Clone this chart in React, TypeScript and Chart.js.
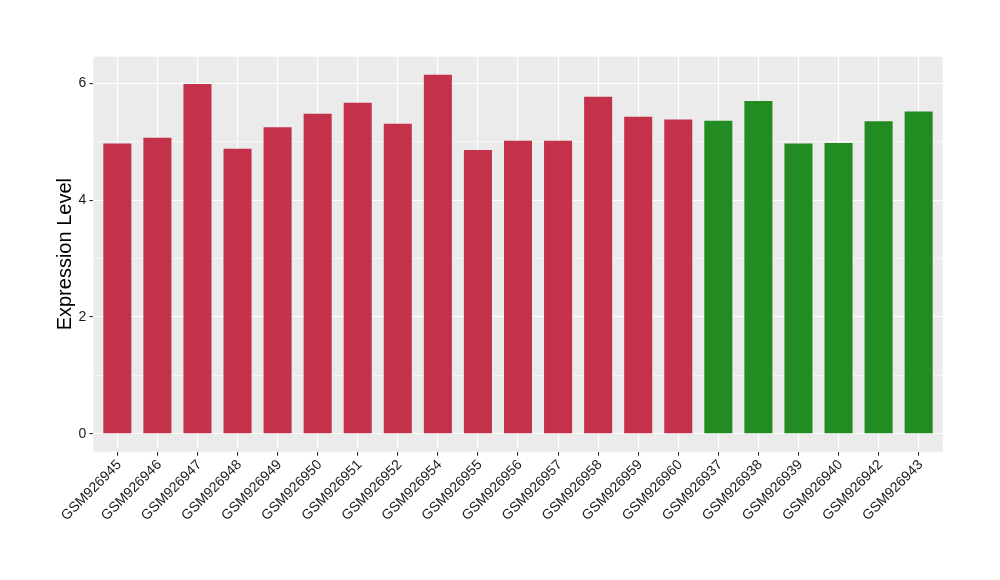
import React, { useEffect, useRef } from "react";
import { Chart, registerables } from "chart.js";

Chart.register(...registerables);

const samples = [
  "GSM926945", "GSM926946", "GSM926947", "GSM926948", "GSM926949", "GSM926950", "GSM926951",
  "GSM926952", "GSM926954", "GSM926955", "GSM926956", "GSM926957", "GSM926958", "GSM926959",
  "GSM926960", "GSM926937", "GSM926938", "GSM926939", "GSM926940", "GSM926942", "GSM926943",
];
const values = [
  4.97, 5.07, 5.99, 4.88, 5.25, 5.48, 5.67, 5.31, 6.15, 4.86, 5.02, 5.02, 5.77, 5.43, 5.38,
  5.36, 5.70, 4.97, 4.98, 5.35, 5.52,
];
const groups = [
  "a", "a", "a", "a", "a", "a", "a", "a", "a", "a", "a", "a", "a", "a", "a",
  "b", "b", "b", "b", "b", "b",
];
const groupColors: Record<string, string> = { a: "#C3314A", b: "#228B22" };
const yTicks = [0, 1, 2, 3, 4, 5, 6];

const FONT = "'Liberation Sans', Arial, Helvetica, sans-serif";

const panelBg = {
  id: "panelBg",
  beforeDraw(chart: any) {
    const { ctx, chartArea } = chart;
    ctx.save();
    ctx.fillStyle = "#EBEBEB";
    ctx.fillRect(chartArea.left, chartArea.top, chartArea.right - chartArea.left, chartArea.bottom - chartArea.top);
    ctx.restore();
  },
};

export default function App() {
  const ref = useRef<HTMLCanvasElement | null>(null);

  useEffect(() => {
    if (!ref.current) return;
    const maxV = Math.max(...values);
    const chart = new Chart(ref.current, {
      type: "bar",
      data: {
        datasets: [
          {
            data: values.map((v, i) => ({ x: i, y: v })),
            backgroundColor: groups.map((g) => groupColors[g]),
            borderWidth: 0,
            categoryPercentage: 1,
            barPercentage: 0.7,
          },
        ],
      },
      options: {
        responsive: false,
        animation: false,
        devicePixelRatio: 1,
        layout: { padding: { left: 0, right: 57.3, top: 56.7, bottom: 0 } },
        plugins: { legend: { display: false }, tooltip: { enabled: false } },
        scales: {
          x: {
            type: "linear",
            offset: false,
            min: -0.6,
            max: samples.length - 1 + 0.6,
            afterBuildTicks: (scale: any) => {
              scale.ticks = samples.map((_, i) => ({ value: i }));
            },
            afterFit: (scale: any) => {
              scale.height = 580 - 451.7;
            },
            ticks: {
              autoSkip: false,
              maxRotation: 45,
              minRotation: 45,
              color: "#1A1A1A",
              font: { family: FONT, size: 14 },
              padding: 1,
              labelOffset: 2,
              callback: (v: any) => samples[v as number] ?? "",
            },
            grid: {
              offset: false,
              color: "#FFFFFF",
              lineWidth: 1.1,
              tickColor: "#333333",
              tickLength: 4,
            },
            border: { display: false },
          },
          y: {
            min: -0.05 * maxV,
            max: maxV * 1.05,
            afterBuildTicks: (scale: any) => {
              scale.ticks = yTicks.map((v) => ({ value: v }));
            },
            afterFit: (scale: any) => {
              scale.width = 93.3;
            },
            ticks: {
              color: "#1A1A1A",
              font: { family: FONT, size: 14 },
              padding: 3,
              callback: (v: any) => ((v as number) % 2 === 0 ? String(v) : ""),
            },
            grid: {
              color: "#FFFFFF",
              lineWidth: (c: any) => (c.tick && c.tick.value % 2 === 0 ? 1.1 : 0.55),
              tickColor: (c: any) => (c.tick && c.tick.value % 2 === 0 ? "#333333" : "rgba(0,0,0,0)"),
              tickLength: 4,
            },
            border: { display: false },
            title: {
              display: true,
              text: "Expression Level",
              color: "#000000",
              font: { family: FONT, size: 20 },
              padding: { top: 53, bottom: 0 },
            },
          },
        },
      },
      plugins: [panelBg],
    } as any);
    return () => chart.destroy();
  }, []);

  return (
    <div style={{ position: "fixed", left: 0, top: 0, width: 1000, height: 580, background: "#FFFFFF" }}>
      <canvas ref={ref} width={1000} height={580} style={{ width: 1000, height: 580, display: "block" }} />
    </div>
  );
}
